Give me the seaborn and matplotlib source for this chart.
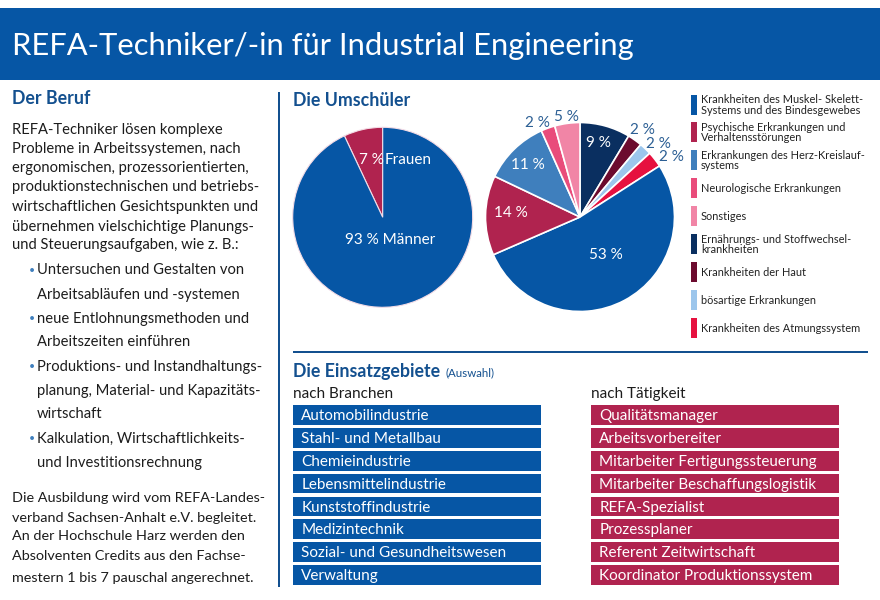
import matplotlib
matplotlib.use("Agg")
import matplotlib.pyplot as plt
from matplotlib.patches import Rectangle
import seaborn as sns

sns.set_theme(style="white")
plt.rcParams['font.family'] = ['Lato', 'DejaVu Sans']

W, H = 880, 600
BLUE = "#0656a5"
CRIMSON = "#b0234f"
HEAD = "#13508f"
INK = "#1c1c1c"

gender_labels = ["Frauen", "Männer"]
gender_values = [7, 93]
gender_colors = [CRIMSON, BLUE]

disease_values = [8.6, 2.5, 2.1, 2.7, 52.5, 13.6, 11.2, 2.4, 4.3]
disease_colors = ["#0a2f60", "#6c0b2e", "#9cc6ec", "#e6113f", BLUE, CRIMSON,
                  "#3f7fbd", "#e94c7b", "#f185a6"]
disease_text = ["9 %", "2 %", "2 %", "2 %", "53 %", "14 %", "11 %", "2 %", "5 %"]

legend_labels = ["Krankheiten des Muskel- Skelett-\nSystems und des Bindesgewebes",
                 "Psychische Erkrankungen und\nVerhaltensstörungen",
                 "Erkrankungen des Herz-Kreislauf-\nsystems",
                 "Neurologische Erkrankungen",
                 "Sonstiges",
                 "Ernährungs- und Stoffwechsel-\nkrankheiten",
                 "Krankheiten der Haut",
                 "bösartige Erkrankungen",
                 "Krankheiten des Atmungssystem"]
legend_colors = [BLUE, CRIMSON, "#3f7fbd", "#e94c7b", "#f185a6", "#0a2f60",
                 "#6c0b2e", "#9cc6ec", "#e6113f"]

branchen = ["Automobilindustrie", "Stahl- und Metallbau", "Chemieindustrie",
            "Lebensmittelindustrie", "Kunststoffindustrie", "Medizintechnik",
            "Sozial- und Gesundheitswesen", "Verwaltung"]
taetigkeit = ["Qualitätsmanager", "Arbeitsvorbereiter", "Mitarbeiter Fertigungssteuerung",
              "Mitarbeiter Beschaffungslogistik", "REFA-Spezialist", "Prozessplaner",
              "Referent Zeitwirtschaft", "Koordinator Produktionssystem"]

intro = ["REFA-Techniker lösen komplexe", "Probleme in Arbeitssystemen, nach",
         "ergonomischen, prozessorientierten,", "produktionstechnischen und betriebs-",
         "wirtschaftlichen Gesichtspunkten und", "übernehmen vielschichtige Planungs-",
         "und Steuerungsaufgaben, wie z. B.:"]
bullets = [(True, "Untersuchen und Gestalten von"), (False, "Arbeitsabläufen und -systemen"),
           (True, "neue Entlohnungsmethoden und"), (False, "Arbeitszeiten einführen"),
           (True, "Produktions- und Instandhaltungs-"), (False, "planung, Material- und Kapazitäts-"),
           (False, "wirtschaft"), (True, "Kalkulation, Wirtschaftlichkeits-"),
           (False, "und Investitionsrechnung")]
outro = ["Die Ausbildung wird vom REFA-Landes-", "verband Sachsen-Anhalt e.V. begleitet.",
         "An der Hochschule Harz werden den", "Absolventen Credits aus den Fachse-",
         "mestern 1 bis 7 pauschal angerechnet."]

fig = plt.figure(figsize=(W / 100, H / 100), dpi=100, facecolor="white")

def px_axes(x0, y0, x1, y1, **kw):
    return fig.add_axes([x0 / W, 1 - y1 / H, (x1 - x0) / W, (y1 - y0) / H], **kw)

bg = fig.add_axes([0, 0, 1, 1], zorder=0)
bg.set_xlim(0, W); bg.set_ylim(H, 0); bg.axis("off")
bg.add_patch(Rectangle((0, 8), W, 72, color=BLUE, lw=0))
bg.add_patch(Rectangle((278, 92), 2.2, 495, color=HEAD, lw=0))
bg.add_patch(Rectangle((293, 350.5), 575, 2.2, color=HEAD, lw=0))

ax1 = px_axes(382.7 - 90, 217.3 - 90, 382.7 + 90, 217.3 + 90, zorder=1)
ax1.pie(gender_values, colors=gender_colors, startangle=90, radius=1,
        wedgeprops=dict(edgecolor="#f4dce6", linewidth=0.8))
ax1.set_xlim(-1, 1); ax1.set_ylim(-1, 1)

ax2 = px_axes(580 - 94.5, 217 - 94.5, 580 + 94.5, 217 + 94.5, zorder=1)
ax2.pie(disease_values, colors=disease_colors, startangle=90, counterclock=False, radius=1,
        wedgeprops=dict(edgecolor="white", linewidth=1.2))
ax2.set_xlim(-1, 1); ax2.set_ylim(-1, 1)

for x0, items, col in [(293, branchen, BLUE), (591, taetigkeit, CRIMSON)]:
    ax = px_axes(x0, 403.7, x0 + 248, 586.3, zorder=1)
    sns.barplot(x=[1] * len(items), y=items, orient="h", color=col, saturation=1,
                width=0.86, ax=ax, linewidth=0)
    ax.set_xlim(0, 1)
    ax.axis("off")
    for i, t in enumerate(items):
        ax.text(0.033, i + 0.05, t, color="white", fontsize=11, va="center", ha="left")

tx = fig.add_axes([0, 0, 1, 1], zorder=3)
tx.set_xlim(0, W); tx.set_ylim(H, 0); tx.axis("off"); tx.patch.set_alpha(0)

tx.text(12, 46, "REFA-Techniker/-in für Industrial Engineering", color="white",
        fontsize=22.2, va="center")
for x, y, t in [(12, 99, "Der Beruf"), (293, 100, "Die Umschüler"), (293, 372, "Die Einsatzgebiete")]:
    tx.text(x, y, t, color=HEAD, fontsize=12.8, fontweight="bold", va="center")
tx.text(446, 372.5, "(Auswahl)", color=HEAD, fontsize=8.3, va="center")
tx.text(293, 394, "nach Branchen", color=INK, fontsize=11, va="center")
tx.text(591, 394, "nach Tätigkeit", color=INK, fontsize=11, va="center")

for y, t in zip([130, 149, 168, 187.5, 207, 226.5, 245.5], intro):
    tx.text(12, y, t, color=INK, fontsize=10.65, va="center")
for y, (b, t) in zip([270.5, 294.5, 318.5, 342.5, 366.5, 390.5, 414.5, 438.5, 462.5], bullets):
    if b:
        tx.text(29, y, "•", color="#3f7fbd", fontsize=7.5, va="center")
    tx.text(37, y, t, color=INK, fontsize=10.65, va="center")
for y, t in zip([498, 517.5, 536.5, 556.5, 577.5], outro):
    tx.text(12, y, t, color=INK, fontsize=10.35, va="center")

tx.text(371, 159.5, "7 %", color="white", fontsize=11, ha="center", va="center")
tx.text(385, 159.5, "Frauen", color="white", fontsize=11, ha="left", va="center")
tx.text(390, 239.5, "93 % Männer", color="white", fontsize=11, ha="center", va="center")
pos = [(598.5, 143), (642, 130), (658, 143.5), (671, 157), (606, 255),
       (511, 213), (527.5, 165), (537.5, 123), (566.5, 117)]
for (x, y), t in zip(pos, disease_text):
    inside = y > 140 and x < 625
    tx.text(x, y, t, color="white" if inside else "#2c5f94", fontsize=11, ha="center", va="center")

leg_y = [104.5, 132, 160, 188, 216, 244, 272, 300, 328]
for y, t, c in zip(leg_y, legend_labels, legend_colors):
    bg.add_patch(Rectangle((691, y - 10), 6, 20, color=c, lw=0))
    tx.text(701, y + 0.5, t, color="#222222", fontsize=7.9, va="center", ha="left", linespacing=0.95)

fig.savefig("out.png", dpi=100, facecolor="white")
